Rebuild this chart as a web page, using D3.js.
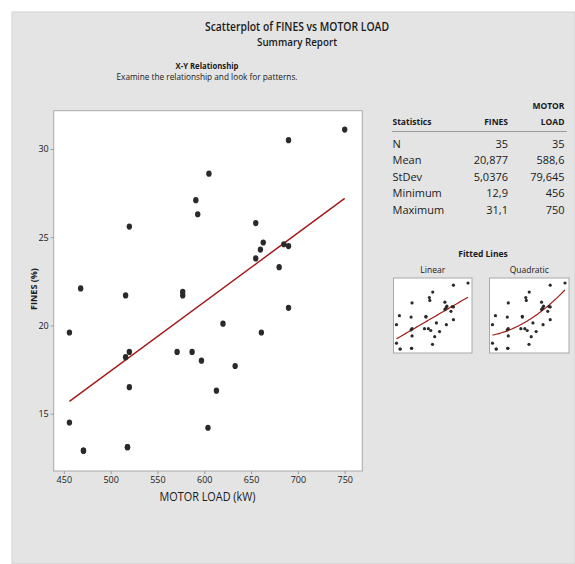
<!DOCTYPE html>
<html><head><meta charset="utf-8">
<script src="https://cdn.jsdelivr.net/npm/d3@7/dist/d3.min.js"></script>
<style>
body{margin:0;background:#fff}
svg text{font-family:"Open Sans","Noto Sans",sans-serif;fill:#1a1a1a}
</style></head>
<body><svg id="chart" width="575" height="564"></svg>
<script>
// ---- data ----
const motorLoad = [520,591,593,605,750,690,655,663,660,655,685,690,680,468,516,577,577,456,520,516,571,587,597,613,520,456,604,471,471,518,518,690,620,661,633];
const fines     = [25.6,27.1,26.3,28.6,31.1,30.5,25.8,24.7,24.3,23.8,24.6,24.5,23.3,22.1,21.7,21.9,21.7,19.6,18.5,18.2,18.5,18.5,18.0,16.3,16.5,14.5,14.2,12.9,12.9,13.1,13.1,21.0,20.1,19.6,17.7];
const xTicks = [450,500,550,600,650,700,750];
const yTicks = [15,20,25,30];
const statLabels = ["N","Mean","StDev","Minimum","Maximum"];
const finesStats = ["35","20,877","5,0376","12,9","31,1"];
const loadStats  = ["35","588,6","79,645","456","750"];
const fitTitles = ["Linear","Quadratic"];

const pts = motorLoad.map((x,i)=>({x, y:fines[i]}));
const svg = d3.select("#chart");

// squeeze text to a target width (reference font is narrower than Open Sans)
function fit(sel, w){
  const n=sel.node(); if(n.getComputedTextLength()>w){sel.attr("textLength",w).attr("lengthAdjust","spacingAndGlyphs");}
  return sel;
}

// panel
svg.append("rect").attr("x",12).attr("y",12).attr("width",563).attr("height",552)
  .attr("fill","#e4e4e4").attr("stroke","#d2d2d2");

// titles
fit(svg.append("text").attr("x",297).attr("y",31).attr("text-anchor","middle")
  .style("font-size","12px").style("font-weight","600").text("Scatterplot of FINES vs MOTOR LOAD"),184);
fit(svg.append("text").attr("x",297).attr("y",46).attr("text-anchor","middle")
  .style("font-size","11.5px").style("font-weight","600").text("Summary Report"),80);
fit(svg.append("text").attr("x",207).attr("y",68.5).attr("text-anchor","middle")
  .style("font-size","8.5px").style("font-weight","700").text("X-Y Relationship"),63);
fit(svg.append("text").attr("x",207).attr("y",79.5).attr("text-anchor","middle")
  .style("font-size","8.5px").text("Examine the relationship and look for patterns."),181);

// main plot
const L=53.7, T=110.7, R=362.3, B=471;
const x = d3.scaleLinear().domain([439.2,768.8]).range([L,R]);
const y = d3.scaleLinear().domain([11.75,32.17]).range([B,T]);

svg.append("rect").attr("x",L).attr("y",T).attr("width",R-L).attr("height",B-T)
  .attr("fill","#fff").attr("stroke","#a8a8a8");

const xAxis = svg.append("g").attr("transform",`translate(0,${B})`)
  .call(d3.axisBottom(x).tickValues(xTicks).tickSize(3).tickPadding(3));
const yAxis = svg.append("g").attr("transform",`translate(${L},0)`)
  .call(d3.axisLeft(y).tickValues(yTicks).tickSize(3).tickPadding(2));
[xAxis,yAxis].forEach(g=>{
  g.select(".domain").remove();
  g.selectAll(".tick line").attr("stroke","#999");
  g.selectAll(".tick text").style("font-size","9px").style("font-family","'Open Sans',sans-serif").attr("fill","#222");
});

fit(svg.append("text").attr("x",207.5).attr("y",501).attr("text-anchor","middle")
  .style("font-size","13px").text("MOTOR LOAD (kW)"),96);
fit(svg.append("text").attr("transform","translate(36.5,289) rotate(-90)").attr("text-anchor","middle")
  .style("font-size","9px").style("font-weight","700").text("FINES (%)"),48);

// regression fits
function linFit(p){
  const mx=d3.mean(p,d=>d.x), my=d3.mean(p,d=>d.y);
  const b=d3.sum(p,d=>(d.x-mx)*(d.y-my))/d3.sum(p,d=>(d.x-mx)**2);
  return v=>my+b*(v-mx);
}
function quadFit(p){
  const mx=d3.mean(p,d=>d.x);
  const S=k=>d3.sum(p,d=>(d.x-mx)**k), Sy=k=>d3.sum(p,d=>d.y*(d.x-mx)**k);
  const A=[[S(0),S(1),S(2)],[S(1),S(2),S(3)],[S(2),S(3),S(4)]], bb=[Sy(0),Sy(1),Sy(2)];
  const M=A.map((r,i)=>[...r,bb[i]]);
  for(let i=0;i<3;i++){for(let j=i+1;j<3;j++){const f=M[j][i]/M[i][i];for(let k=i;k<4;k++)M[j][k]-=f*M[i][k];}}
  const c=[0,0,0];
  for(let i=2;i>=0;i--){let s=M[i][3];for(let k=i+1;k<3;k++)s-=M[i][k]*c[k];c[i]=s/M[i][i];}
  return v=>c[0]+c[1]*(v-mx)+c[2]*(v-mx)**2;
}
const lin=linFit(pts), quad=quadFit(pts);
const xExt=d3.extent(motorLoad), yExt=d3.extent(fines);
const lineColor="#a31a1a", dotColor="#2a2a2a";

svg.append("line").attr("x1",x(xExt[0])).attr("y1",y(lin(xExt[0])))
  .attr("x2",x(xExt[1])).attr("y2",y(lin(xExt[1])))
  .attr("stroke",lineColor).attr("stroke-width",1.5);

svg.append("g").selectAll("ellipse").data(pts).join("ellipse")
  .attr("cx",d=>x(d.x)).attr("cy",d=>y(d.y)).attr("rx",2.7).attr("ry",3.1)
  .attr("fill",dotColor);

// statistics table
const colLabel=392.5, colF=508, colM=564.5;
svg.append("text").attr("x",colM).attr("y",109).attr("text-anchor","end")
  .style("font-size","8.5px").style("font-weight","700").text("MOTOR");
[["Statistics",colLabel,"start"],["FINES",colF,"end"],["LOAD",colM,"end"]].forEach(([t,xx,a])=>
  svg.append("text").attr("x",xx).attr("y",125).attr("text-anchor",a)
    .style("font-size","8.5px").style("font-weight","700").text(t));
svg.append("line").attr("x1",392).attr("x2",567).attr("y1",131.5).attr("y2",131.5)
  .attr("stroke","#9a9a9a");
const rowY=d3.scalePoint().domain(statLabels).range([147.5,213.5]);
statLabels.forEach((s,i)=>{
  const g=svg.append("g").attr("transform",`translate(0,${rowY(s)})`).style("font-size","11px");
  g.append("text").attr("x",colLabel).text(s);
  g.append("text").attr("x",colF).attr("text-anchor","end").text(finesStats[i]);
  g.append("text").attr("x",colM).attr("text-anchor","end").text(loadStats[i]);
});

// fitted lines thumbnails
svg.append("text").attr("x",483).attr("y",257).attr("text-anchor","middle")
  .style("font-size","8.5px").style("font-weight","700").text("Fitted Lines");
const boxes=[{x0:393.5,x1:472},{x0:489.5,x1:569}];
const bT=278, bB=353;
boxes.forEach((bx,k)=>{
  svg.append("text").attr("x",(bx.x0+bx.x1)/2).attr("y",273).attr("text-anchor","middle")
    .style("font-size","8.5px").text(fitTitles[k]);
  svg.append("rect").attr("x",bx.x0).attr("y",bT).attr("width",bx.x1-bx.x0).attr("height",bB-bT)
    .attr("fill","#fff").attr("stroke","#a8a8a8");
  const sx=d3.scaleLinear().domain(xExt).range([bx.x0+3,bx.x1-4]);
  const sy=d3.scaleLinear().domain(yExt).range([bB-4,bT+5]);
  const f=k===0?lin:quad;
  const xs=d3.range(0,41).map(i=>xExt[0]+(xExt[1]-xExt[0])*i/40);
  svg.append("path").attr("d",d3.line().x(v=>sx(v)).y(v=>sy(f(v)))(xs))
    .attr("fill","none").attr("stroke",lineColor).attr("stroke-width",1.2);
  svg.append("g").selectAll("circle").data(pts).join("circle")
    .attr("cx",d=>sx(d.x)).attr("cy",d=>sy(d.y)).attr("r",1.6).attr("fill",dotColor);
});
</script>
</body></html>
